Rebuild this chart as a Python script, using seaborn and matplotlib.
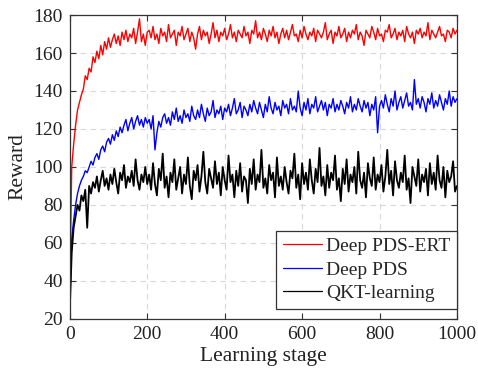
import numpy as np
import pandas as pd
import matplotlib
matplotlib.use("Agg")
import matplotlib.pyplot as plt
import seaborn as sns

stages = list(range(0, 1001, 5))

ert_values = [
    35, 100, 112, 122, 130, 134, 138, 141, 148, 146, 152, 150, 158, 155, 161, 157, 164, 159, 166, 162,
    168, 163, 167, 170, 165, 169, 164, 171, 167, 172, 166, 170, 168, 173, 165, 171, 178, 166, 170, 164, 171,
    172, 168, 174, 167, 170, 165, 173, 169, 171, 166,
    175, 168, 170, 172, 164, 171, 169, 174, 167, 170,
    173, 166, 171, 168, 162, 170, 174, 167, 172, 169,
    171, 165, 170, 176, 168, 172, 166, 171, 169, 173,
    167, 170, 175, 168, 171, 166, 172, 170, 168, 174,
    169, 171, 165, 172, 170, 177, 168, 171, 167, 173,
    170, 166, 172, 169, 174, 168, 171, 165, 170, 173,
    168, 172, 167, 171, 175, 169, 170, 166, 172, 168,
    174, 170, 167, 171, 169, 173, 166, 172, 170, 168,
    171, 176, 167, 170, 172, 165, 171, 169, 174, 168,
    170, 173, 166, 171, 168, 172, 170, 175, 167, 171,
    169, 164, 172, 170, 168, 174, 171, 167, 173, 169,
    170, 166, 172, 171, 175, 168, 170, 173, 167, 171,
    169, 172, 166, 174, 170, 168, 171, 165, 172, 170,
    173, 168, 171, 169, 176, 167, 172, 170, 168, 171,
    174, 169, 170, 166, 172, 171, 168, 173, 170, 172,
]

pds_values = [
    28, 62, 72, 80, 86, 90, 93, 95, 98, 97, 100, 103, 101, 105, 107, 104, 109, 111, 108, 113,
    115, 112, 117, 114, 119, 116, 121, 118, 122, 125, 119, 123, 126, 120, 124, 127, 122, 125, 121, 126, 123,
    125, 120, 127, 109, 118, 124, 121, 126, 128, 123,
    126, 122, 129, 125, 131, 124, 127, 123, 130, 126,
    128, 124, 132, 127, 125, 130, 126, 133, 128, 124,
    131, 127, 129, 135, 126, 130, 128, 132, 125, 131,
    129, 133, 127, 131, 136, 128, 130, 134, 126, 132,
    130, 127, 133, 129, 135, 131, 128, 134, 130, 126,
    133, 129, 137, 131, 128, 134, 130, 132, 127, 135,
    131, 133, 128, 136, 130, 132, 129, 140, 131, 127,
    134, 130, 136, 128, 133, 131, 137, 129, 132, 135,
    130, 134, 127, 133, 131, 136, 129, 133, 130, 135,
    132, 128, 134, 131, 137, 129, 133, 130, 136, 132,
    129, 135, 131, 134, 127, 133, 130, 137, 118, 132,
    135, 131, 138, 133, 129, 136, 132, 140, 130, 134,
    137, 131, 135, 139, 132, 134, 130, 146, 133, 136,
    131, 137, 134, 129, 136, 133, 139, 131, 135, 132,
    138, 134, 130, 136, 133, 140, 132, 137, 134, 136,
]

qkt_values = [
    25, 55, 68, 74, 80, 77, 85, 82, 88, 68, 90, 86, 92, 89, 95, 87, 93, 98, 90, 94,
    88, 96, 91, 99, 92, 86, 97, 93, 101, 89, 95, 92, 98, 90, 104, 93, 88, 96, 92, 100, 91,
    96, 88, 102, 91, 85, 99, 93, 107, 89, 95,
    84, 97, 92, 104, 88, 94, 100, 86, 96, 91,
    105, 90, 83, 98, 93, 101, 87, 95, 108, 92,
    86, 99, 94, 89, 103, 91, 97, 85, 100, 93,
    88, 106, 92, 96, 84, 98, 90, 102, 87, 95,
    93, 81, 99, 91, 104, 88, 96, 92, 109, 89,
    94, 86, 101, 93, 97, 84, 105, 90, 95, 88,
    100, 92, 86, 98, 94, 107, 89, 96, 83, 102,
    91, 97, 88, 104, 93, 86, 99, 92, 110, 90,
    95, 85, 101, 89, 97, 93, 106, 88, 94, 82,
    99, 91, 104, 87, 96, 92, 100, 86, 108, 93,
    89, 97, 84, 102, 94, 90, 105, 88, 96, 92,
    101, 87, 95, 109, 91, 98, 85, 103, 93, 89,
    97, 92, 106, 88, 94, 81, 100, 95, 90, 104,
    87, 96, 92, 99, 85, 102, 91, 97, 88, 106,
    93, 89, 100, 84, 98, 92, 95, 103, 87, 90,
]

series_names = ["Deep PDS-ERT", "Deep PDS", "QKT-learning"]
series_colors = ["#ff0000", "#0000ff", "#000000"]
x_ticks = [0, 200, 400, 600, 800, 1000]
y_ticks = [20, 40, 60, 80, 100, 120, 140, 160, 180]

df = pd.concat([
    pd.DataFrame({"stage": stages, "reward": vals, "method": name})
    for name, vals in zip(series_names, [ert_values, pds_values, qkt_values])
], ignore_index=True)

sns.set_theme(style="ticks")
plt.rcParams["font.family"] = ["Liberation Serif", "DejaVu Serif"]

fig = plt.figure(figsize=(4.78, 3.76), dpi=100)
ax = fig.add_axes([0.146, 0.152, 0.810, 0.808])

sns.lineplot(data=df, x="stage", y="reward", hue="method", hue_order=series_names,
             palette=dict(zip(series_names, series_colors)), linewidth=1.0,
             estimator=None, ax=ax, legend=True)
for line in ax.get_lines():
    if matplotlib.colors.to_hex(line.get_color()) == "#000000":
        line.set_linewidth(1.3)

ax.set_xlim(0, 1000)
ax.set_ylim(20, 180)
ax.set_xticks(x_ticks)
ax.set_yticks(y_ticks)
ax.grid(True, linestyle=(0, (5, 4)), color="#d9d9d9", linewidth=0.8)
ax.set_axisbelow(True)
for s in ax.spines.values():
    s.set_color("#333333")
    s.set_linewidth(0.9)
ax.tick_params(direction="in", length=4, width=0.8, color="#333333",
               top=True, right=True, labelsize=14, labelcolor="#222222", pad=5)
ax.set_xlabel("Learning stage", fontsize=15.5, color="#222222", labelpad=3)
ax.set_ylabel("Reward", fontsize=15.5, color="#222222", labelpad=4)

leg = ax.legend(loc="lower right", bbox_to_anchor=(1.0, 0.033), fontsize=14,
                frameon=True, fancybox=False, edgecolor="#333333", framealpha=1,
                borderaxespad=0.0, handlelength=2.0, handletextpad=0.2,
                labelspacing=0.3, borderpad=0.35)
leg.get_frame().set_linewidth(0.9)
for line in leg.get_lines():
    line.set_linewidth(0.9)

fig.savefig("out.png", dpi=100)
